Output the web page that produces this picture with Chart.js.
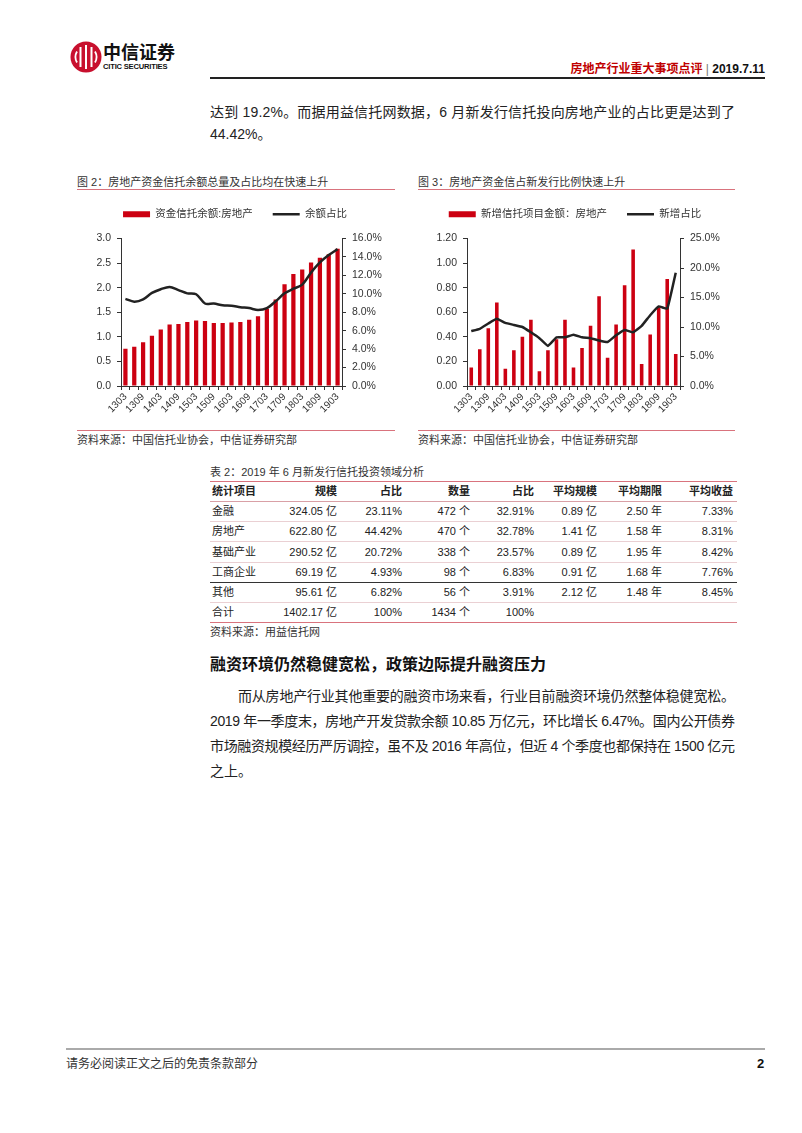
<!DOCTYPE html>
<html>
<head>
<meta charset="utf-8">
<script src="https://cdn.jsdelivr.net/npm/chart.js"></script>
<style>
  body { margin: 0; background: #fff; }
  #page { position: relative; width: 802px; height: 1133px; overflow: hidden;
          font-family: "Liberation Sans", "Noto Sans CJK SC", sans-serif; color: #222; }
  .t { position: absolute; white-space: nowrap; }
  .line { position: absolute; height: 1px; }
  .body14 { font-size: 14px; line-height: 20px; }
  .cap { font-size: 11px; line-height: 14px; color: #333; }
  .cell { position: absolute; font-size: 11px; line-height: 14px; white-space: nowrap; color: #222; }
  canvas { position: absolute; }
</style>
</head>
<body>
<div id="page">
  <!-- header -->
  <svg width="32" height="32" viewBox="0 0 32 32" style="position:absolute;left:70px;top:41px">
    <circle cx="16" cy="16" r="15.5" fill="#c8102e"/>
    <path d="M10.5 6 v20 M16 4 v24 M21.5 6 v20" stroke="#fff" stroke-width="2" fill="none"/>
    <path d="M7 10.5 a11 11 0 0 0 0 11 M25 10.5 a11 11 0 0 1 0 11" stroke="#fff" stroke-width="1.8" fill="none"/>
  </svg>
  <div class="t" style="left:103px;top:40px;font-size:18px;line-height:22px;font-weight:bold;font-family:'Noto Sans CJK SC';color:#111">中信证券</div>
  <div class="t" style="left:103px;top:62px;font-size:7.6px;line-height:10px;font-weight:bold;color:#111;letter-spacing:-0.2px">CITIC SECURITIES</div>
  <div class="t" style="right:37px;top:61px;font-size:12px;line-height:16px;font-weight:bold">
    <span style="color:#c00000">房地产行业重大事项点评</span><span style="color:#777;font-weight:normal"> | </span><span style="color:#111">2019.7.11</span>
  </div>
  <div class="line" style="left:210px;top:77px;width:555px;height:2px;background:#222"></div>

  <div class="t body14 fit" data-w="525" style="left:210px;top:102px">达到 19.2%。而据用益信托网数据，6 月新发行信托投向房地产业的占比更是达到了</div>
  <div class="t body14" style="left:210px;top:124px">44.42%。</div>

  <!-- figure captions -->
  <div class="t cap" style="left:77px;top:175px">图 2：房地产资金信托余额总量及占比均在快速上升</div>
  <div class="line" style="left:77px;top:189px;width:318px;background:#d9737d"></div>
  <div class="t cap" style="left:418px;top:175px">图 3：房地产资金信占新发行比例快速上升</div>
  <div class="line" style="left:418px;top:189px;width:317px;background:#d9737d"></div>

  <canvas id="chart1" width="330" height="231" style="left:70px;top:189px"></canvas>
  <canvas id="chart2" width="330" height="231" style="left:410px;top:189px"></canvas>

  <div class="line" style="left:77px;top:430px;width:318px;background:#d9737d"></div>
  <div class="t cap" style="left:77px;top:433px">资料来源：中国信托业协会，中信证券研究部</div>
  <div class="line" style="left:418px;top:430px;width:317px;background:#d9737d"></div>
  <div class="t cap" style="left:418px;top:433px">资料来源：中国信托业协会，中信证券研究部</div>

  <!-- table -->
  <div class="t cap" style="left:210px;top:465px">表 2：2019 年 6 月新发行信托投资领域分析</div>
  <div id="table"></div>
  <div class="t cap" style="left:210px;top:625px">资料来源：用益信托网</div>

  <!-- section -->
  <div class="t" style="left:210px;top:654px;font-size:16px;line-height:22px;font-weight:bold;color:#111">融资环境仍然稳健宽松，政策边际提升融资压力</div>
  <div class="t body14 fit" data-w="497" style="left:238px;top:686px">而从房地产行业其他重要的融资市场来看，行业目前融资环境仍然整体稳健宽松。</div>
  <div class="t body14 fit" data-w="525" style="left:210px;top:711px">2019 年一季度末，房地产开发贷款余额 10.85 万亿元，环比增长 6.47%。国内公开债券</div>
  <div class="t body14 fit" data-w="525" style="left:210px;top:736px">市场融资规模经历严厉调控，虽不及 2016 年高位，但近 4 个季度也都保持在 1500 亿元</div>
  <div class="t body14" style="left:210px;top:761px">之上。</div>

  <!-- footer -->
  <div class="line" style="left:66px;top:1048px;width:699px;height:2px;background:#aaa"></div>
  <div class="t" style="left:66px;top:1057px;font-size:12px;line-height:14px;color:#333">请务必阅读正文之后的免责条款部分</div>
  <div class="t" style="left:757px;top:1056px;font-size:13px;line-height:16px;font-weight:bold;color:#111">2</div>
</div>

<script>
// quarters 2013Q1 .. 2019Q1
const quarters = ['1303', '1306', '1309', '1312', '1403', '1406', '1409', '1412', '1503', '1506',
    '1509', '1512', '1603', '1606', '1609', '1612', '1703', '1706', '1709', '1712',
    '1803', '1806', '1809', '1812', '1903'];

// fig 2: trust balance to real estate (trillion) and its share (%)
const trustBalance = [0.76, 0.80, 0.89, 1.02, 1.15, 1.25, 1.26, 1.30, 1.33, 1.32,
    1.28, 1.28, 1.29, 1.30, 1.35, 1.42, 1.57, 1.76, 2.07, 2.28,
    2.37, 2.51, 2.61, 2.68, 2.79];
const balanceShare = [9.45, 9.15, 9.4, 10.1, 10.5, 10.75, 10.4, 10.05, 9.95, 8.95,
    8.95, 8.75, 8.7, 8.55, 8.45, 8.25, 8.45, 9.2, 10.05, 10.55,
    11.0, 12.3, 13.4, 14.2, 14.85];

// fig 3: newly issued trust amount to real estate (trillion) and its share (%)
const newTrustAmount = [0.15, 0.30, 0.47, 0.68, 0.14, 0.29, 0.40, 0.54, 0.12, 0.29,
    0.38, 0.54, 0.15, 0.31, 0.49, 0.73, 0.23, 0.50, 0.82, 1.11,
    0.18, 0.42, 0.64, 0.87, 0.26];
const newShare = [9.3, 9.7, 10.6, 11.4, 10.7, 10.35, 10.0, 9.1, 8.1, 6.8,
    8.25, 8.25, 8.7, 8.25, 8.1, 7.7, 7.45, 8.6, 9.5, 9.1,
    10.2, 12.0, 13.5, 13.1, 19.2];

const tableHead = ['统计项目', '规模', '占比', '数量', '占比', '平均规模', '平均期限', '平均收益'];
const tableRows = [
    ['金融', '324.05 亿', '23.11%', '472 个', '32.91%', '0.89 亿', '2.50 年', '7.33%'],
    ['房地产', '622.80 亿', '44.42%', '470 个', '32.78%', '1.41 亿', '1.58 年', '8.31%'],
    ['基础产业', '290.52 亿', '20.72%', '338 个', '23.57%', '0.89 亿', '1.95 年', '8.42%'],
    ['工商企业', '69.19 亿', '4.93%', '98 个', '6.83%', '0.91 亿', '1.68 年', '7.76%'],
    ['其他', '95.61 亿', '6.82%', '56 个', '3.91%', '2.12 亿', '1.48 年', '8.45%'],
    ['合计', '1402.17 亿', '100%', '1434 个', '100%', '', '', '']
];

// stretch or squeeze full body lines so each ends at the right margin
document.querySelectorAll('.fit').forEach((el) => {
    const target = Number(el.dataset.w);
    const w = el.getBoundingClientRect().width;
    const n = el.textContent.length;
    el.style.letterSpacing = ((target - w) / (n - 1)).toFixed(3) + 'px';
});

(function buildTable() {
    const host = document.getElementById('table');
    const colRight = [null, 337, 402, 470, 534, 597, 662, 733];
    const rowTop = [481, 501, 521, 541, 562, 582, 602, 622];
    const lineColor = ['#d9737d', '#d9a0a6', '#ead0d3', '#ead0d3', '#ead0d3', '#333', '#ead0d3', '#d9737d'];

    rowTop.forEach((y, i) => {
        const l = document.createElement('div');
        l.className = 'line';
        l.style.cssText = `left:210px;top:${y}px;width:527px;background:${lineColor[i]}`;
        host.appendChild(l);
    });

    [tableHead].concat(tableRows).forEach((row, r) => {
        const center = (rowTop[r] + rowTop[r + 1]) / 2;
        row.forEach((text, c) => {
            if (!text) return;
            const el = document.createElement('div');
            el.className = 'cell';
            el.textContent = text;
            el.style.top = (center - 7) + 'px';
            if (c === 0) el.style.left = '212px';
            else el.style.right = (802 - colRight[c]) + 'px';
            if (r === 0) el.style.fontWeight = 'bold';
            host.appendChild(el);
        });
    });
})();

const RED = '#cc0011';
Chart.defaults.font.family = '"Liberation Sans", "Noto Sans CJK SC", sans-serif';
Chart.defaults.font.size = 10.5;
Chart.defaults.color = '#333';

// pushes the plot area a bit further below the legend
const legendGap = {
    id: 'legendGap',
    beforeInit(chart) {
        const fit = chart.legend.fit;
        chart.legend.fit = function () {
            fit.call(this);
            this.height += 9;
        };
    }
};

function comboChart(canvasId, o) {
    const axisStyle = { drawOnChartArea: false, tickLength: 4, color: '#333' };
    return new Chart(document.getElementById(canvasId), {
        type: 'bar',
        data: {
            labels: quarters,
            datasets: [
                {
                    type: 'bar', label: o.barLabel, data: o.bars, yAxisID: 'y',
                    backgroundColor: RED, borderWidth: 0,
                    categoryPercentage: 1, barPercentage: o.barPct, order: 1
                },
                {
                    type: 'line', label: o.lineLabel, data: o.line, yAxisID: 'y1',
                    borderColor: '#222', backgroundColor: '#222', borderWidth: 2.5,
                    pointRadius: 0, tension: o.tension, order: 0
                }
            ]
        },
        options: {
            responsive: false,
            animation: false,
            plugins: {
                tooltip: { enabled: false },
                legend: {
                    labels: {
                        usePointStyle: true, pointStyleWidth: 27, boxHeight: 6, padding: 20,
                        sort: (a, b) => a.datasetIndex - b.datasetIndex,
                        generateLabels(chart) {
                            const items = Chart.defaults.plugins.legend.labels.generateLabels(chart);
                            items.forEach((it) => {
                                it.pointStyle = chart.data.datasets[it.datasetIndex].type === 'line' ? 'line' : 'rect';
                            });
                            return items;
                        }
                    }
                }
            },
            scales: {
                x: {
                    grid: { offset: true, drawOnChartArea: false, tickLength: 4, color: '#333' },
                    border: { color: '#333' },
                    ticks: {
                        autoSkip: false, minRotation: 45, maxRotation: 45, padding: 1,
                        font: { size: 10 },
                        callback: (v, i) => (i % 2 === 0 ? quarters[i] : '')
                    },
                    afterFit: (a) => { a.height = 34; }
                },
                y: {
                    position: 'left', min: 0, max: o.yMax,
                    ticks: { stepSize: o.yStep, padding: 6, callback: (v) => v.toFixed(o.yDec) },
                    grid: axisStyle, border: { color: '#333' },
                    afterFit: (a) => { a.width = o.yWidth; }
                },
                y1: {
                    position: 'right', min: 0, max: o.y1Max,
                    ticks: { stepSize: o.y1Step, padding: 6, callback: (v) => v.toFixed(1) + '%' },
                    grid: axisStyle, border: { color: '#333' },
                    afterFit: (a) => { a.width = o.y1Width; }
                }
            }
        },
        plugins: [legendGap]
    });
}

comboChart('chart1', {
    barLabel: '资金信托余额:房地产', lineLabel: '余额占比',
    bars: trustBalance, line: balanceShare, barPct: 0.48, tension: 0.3,
    yMax: 3, yStep: 0.5, yDec: 1, yWidth: 51,
    y1Max: 16, y1Step: 2, y1Width: 58
});

comboChart('chart2', {
    barLabel: '新增信托项目金额：房地产', lineLabel: '新增占比',
    bars: newTrustAmount, line: newShare, barPct: 0.42, tension: 0.1,
    yMax: 1.2, yStep: 0.2, yDec: 2, yWidth: 57,
    y1Max: 25, y1Step: 5, y1Width: 60
});
</script>
</body>
</html>
